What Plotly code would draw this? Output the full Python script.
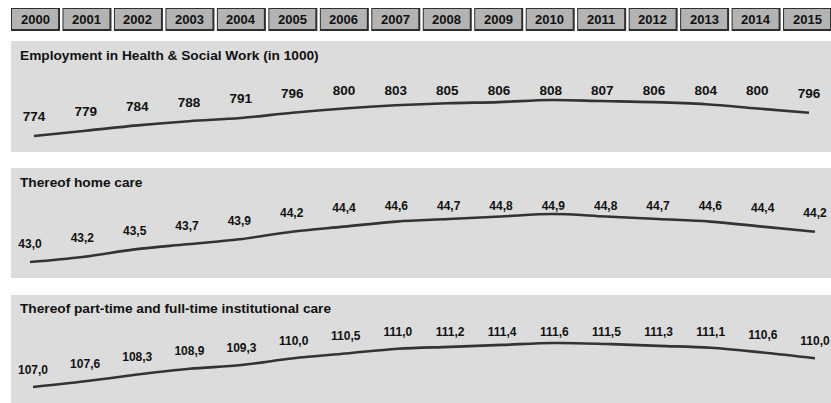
import plotly.graph_objects as go

# ---- data -------------------------------------------------------------
years = list(range(2000, 2016))
year_labels = [str(y) for y in years]

employment = [774, 779, 784, 788, 791, 796, 800, 803, 805, 806, 808, 807, 806, 804, 800, 796]
home_care = [43.0, 43.2, 43.5, 43.7, 43.9, 44.2, 44.4, 44.6, 44.7, 44.8, 44.9, 44.8, 44.7, 44.6, 44.4, 44.2]
institutional = [107.0, 107.6, 108.3, 108.9, 109.3, 110.0, 110.5, 111.0, 111.2, 111.4, 111.6, 111.5,
                 111.3, 111.1, 110.6, 110.0]

panel_titles = [
    "Employment in Health & Social Work (in 1000)",
    "Thereof home care",
    "Thereof part-time and full-time institutional care",
]

# ---- page geometry (pixels) --------------------------------------------
W, H = 831, 403
FONT = "Liberation Sans, Arial, sans-serif"
TEXT = "#111111"


def fx(p):
    return p / W


def fy(p):
    return 1 - p / H


def fmt_int(v):
    return f"{v:.0f}"


def fmt_dec(v):
    return f"{v:.1f}".replace(".", ",")


panels = [
    dict(values=employment, title=panel_titles[0], fmt=fmt_int, top=41, bottom=152,
         x_first=34, x_last=809, ref_px=136, ppu=1.0588, gap=18, ceiling=91.5,
         size=13.5, title_y=55.5),
    dict(values=home_care, title=panel_titles[1], fmt=fmt_dec, top=168, bottom=278,
         x_first=30, x_last=815, ref_px=262, ppu=25.26, gap=17.5, ceiling=207,
         size=12, title_y=182),
    dict(values=institutional, title=panel_titles[2], fmt=fmt_dec, top=295, bottom=403,
         x_first=33, x_last=815, ref_px=387, ppu=9.565, gap=16.5, ceiling=333,
         size=12, title_y=308),
]

fig = go.Figure()
layout = dict(
    width=W, height=H,
    margin=dict(l=0, r=0, t=0, b=0),
    paper_bgcolor="white",
    plot_bgcolor="rgba(0,0,0,0)",
    showlegend=False,
    shapes=[],
    annotations=[],
)

for i, p in enumerate(panels, start=1):
    vals = p["values"]
    ref_v = vals[0]
    # x axis: first and last year mapped to pixel columns
    per_year = (p["x_last"] - p["x_first"]) / (years[-1] - years[0])
    x_lo = years[0] - p["x_first"] / per_year
    x_hi = years[0] + (W - p["x_first"]) / per_year
    # y axis: value scale in pixels per unit, anchored on the first value
    y_hi = ref_v + (p["ref_px"] - p["top"]) / p["ppu"]
    y_lo = ref_v - (p["bottom"] - p["ref_px"]) / p["ppu"]
    cap = ref_v + (p["ref_px"] - p["ceiling"]) / p["ppu"]
    label_y = [min(v + p["gap"] / p["ppu"], cap) for v in vals]

    xa = "x" if i == 1 else f"x{i}"
    ya = "y" if i == 1 else f"y{i}"
    layout[f"xaxis{'' if i == 1 else i}"] = dict(
        domain=[0, 1], range=[x_lo, x_hi], visible=False, fixedrange=True,
        anchor=ya)
    layout[f"yaxis{'' if i == 1 else i}"] = dict(
        domain=[fy(p["bottom"]), fy(p["top"])], range=[y_lo, y_hi], visible=False,
        fixedrange=True, anchor=xa)

    # grey panel background
    layout["shapes"].append(dict(
        type="rect", xref="paper", yref="paper", layer="below",
        x0=fx(11), x1=1, y0=fy(p["bottom"]), y1=fy(p["top"]),
        fillcolor="#dcdcdc", line=dict(width=0)))

    fig.add_trace(go.Scatter(
        x=years, y=vals, xaxis=xa, yaxis=ya, mode="lines",
        line=dict(color="#333333", width=2.6, shape="spline", smoothing=1.0),
        hoverinfo="skip", cliponaxis=False))
    fig.add_trace(go.Scatter(
        x=years, y=label_y, xaxis=xa, yaxis=ya, mode="text",
        text=[p["fmt"](v) for v in vals], textposition="middle center",
        textfont=dict(family=FONT, size=p["size"], color=TEXT, weight="bold"),
        hoverinfo="skip", cliponaxis=False))

    layout["annotations"].append(dict(
        xref="paper", yref="paper", x=fx(18), y=fy(p["title_y"]),
        xanchor="left", yanchor="middle", showarrow=False,
        text=f"<b>{p['title']}</b>",
        font=dict(family=FONT, size=13.7, color=TEXT)))

# ---- header row of year boxes ------------------------------------------
pitch = 51.47
first_center = 35
layout["xaxis4"] = dict(domain=[0, 1], visible=False, fixedrange=True,
                        range=[years[0] - first_center / pitch,
                               years[0] + (W - first_center) / pitch],
                        anchor="y4")
layout["yaxis4"] = dict(domain=[fy(32), fy(6)], range=[0, 1], visible=False,
                        fixedrange=True, anchor="x4")

for yr, lab in zip(years, year_labels):
    layout["shapes"].append(dict(
        type="rect", xref="x4", yref="paper",
        x0=yr - 24 / pitch, x1=yr + 25 / pitch, y0=fy(31), y1=fy(8),
        fillcolor="#2e2e2e", line=dict(width=0)))
    layout["shapes"].append(dict(
        type="rect", xref="x4", yref="paper",
        x0=yr - 23 / pitch, x1=yr + 23 / pitch, y0=fy(29), y1=fy(9),
        fillcolor="#b3b3b3", line=dict(width=0)))
    layout["annotations"].append(dict(
        xref="x4", yref="paper", x=yr, y=fy(19.5), xanchor="center", yanchor="middle",
        showarrow=False, text=f"<b>{lab}</b>",
        font=dict(family=FONT, size=13, color=TEXT)))

fig.update_layout(**layout)
fig.write_html("out.html")
